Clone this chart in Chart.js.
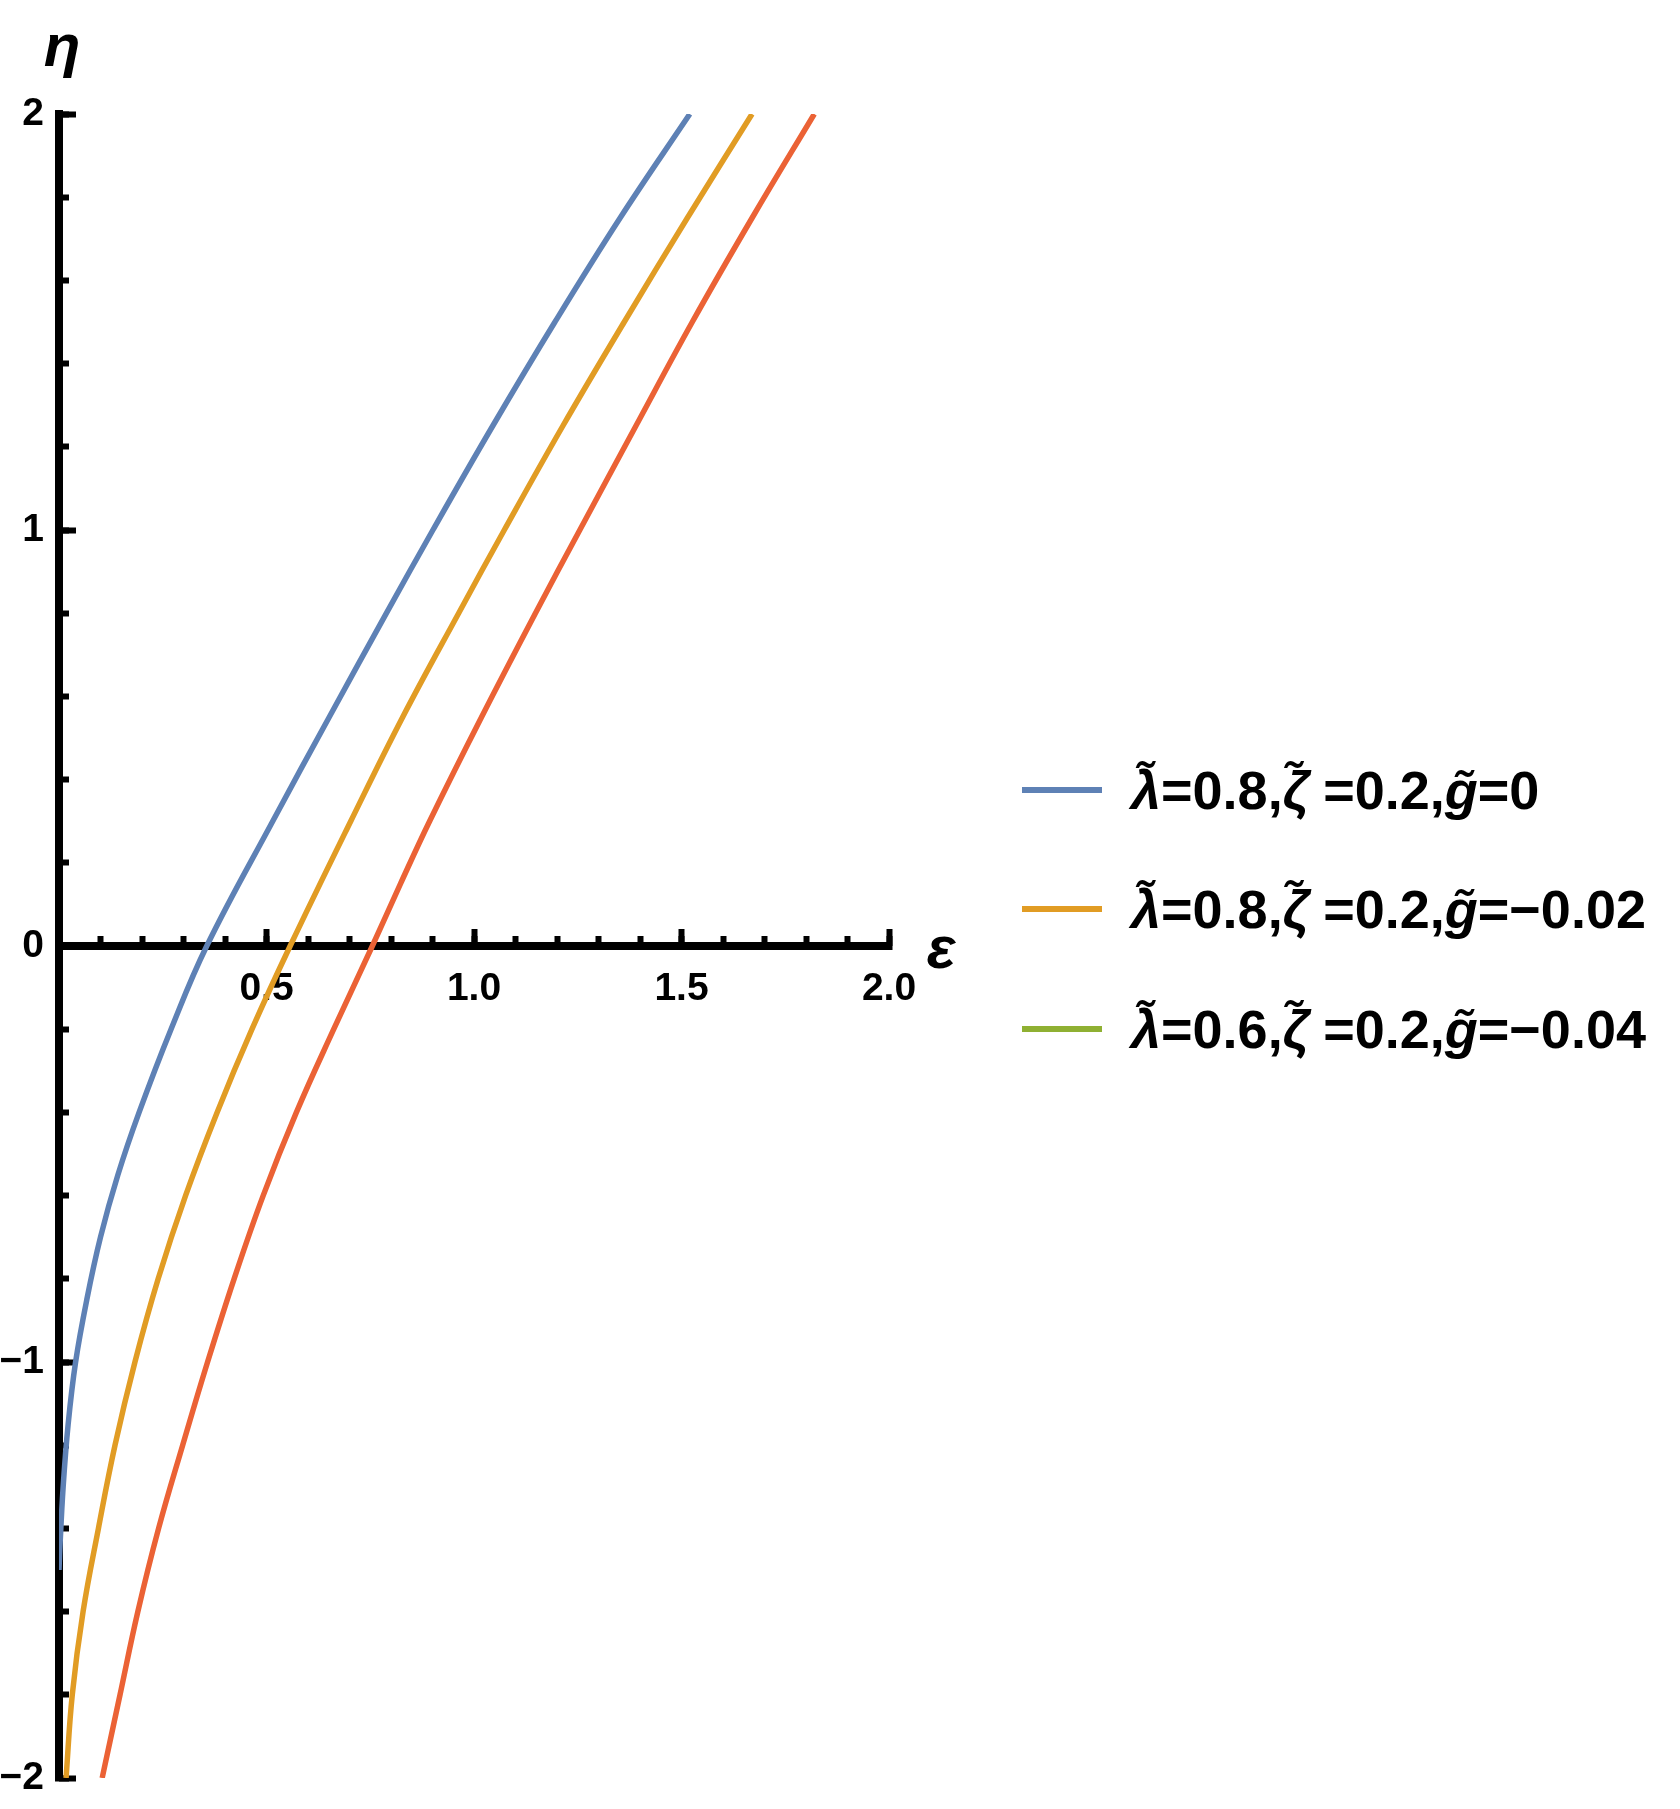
<!DOCTYPE html>
<html>
<head>
<meta charset="utf-8">
<script src="https://cdn.jsdelivr.net/npm/chart.js@4.4.1/dist/chart.umd.min.js"></script>
<style>
  body { margin: 0; background: #fff; }
  #plot { display: block; }
</style>
</head>
<body>
<canvas id="plot" width="1680" height="1809"></canvas>
<script>
// curves: eta on the vertical axis, epsilon on the horizontal one
const etaBlue = [-1.5, -1.45, -1.3, -1.15, -1.0, -0.85, -0.7, -0.55, -0.4, -0.2, 0, 0.3, 0.55, 0.8, 1.0, 1.25, 1.5, 1.75, 2.0];
const epsBlue = [0.0, 0.002, 0.010, 0.022, 0.040, 0.067, 0.100, 0.142, 0.193, 0.270, 0.356, 0.515, 0.651, 0.789, 0.901, 1.045, 1.195, 1.352, 1.52];

const etaOrange = [-2.0, -1.8, -1.6, -1.4, -1.2, -1.0, -0.8, -0.6, -0.4, -0.2, 0, 0.3, 0.55, 0.8, 1.0, 1.25, 1.5, 1.75, 2.0];
const epsOrange = [0.017, 0.032, 0.058, 0.095, 0.135, 0.183, 0.239, 0.305, 0.381, 0.465, 0.557, 0.703, 0.828, 0.963, 1.073, 1.214, 1.362, 1.514, 1.67];

const etaRed = [-2.0, -1.8, -1.6, -1.4, -1.2, -1.0, -0.8, -0.6, -0.4, -0.2, 0, 0.15, 0.3, 0.55, 0.8, 1.0, 1.25, 1.5, 1.75, 2.0];
const epsRed = [0.104, 0.147, 0.19, 0.24, 0.298, 0.358, 0.422, 0.492, 0.572, 0.662, 0.755, 0.823, 0.893, 1.018, 1.148, 1.255, 1.39, 1.526, 1.67, 1.82];

// legend parameters (the 3rd legend swatch is green while its curve is red, as in the figure)
const lambdaVals = ['0.8', '0.8', '0.6'];
const zetaVals = ['0.2', '0.2', '0.2'];
const gVals = ['0', '\u22120.02', '\u22120.04'];
const lineColors = ['#5E81B5', '#E19C24', '#EB6235'];
const swatchColors = ['#5E81B5', '#E19C24', '#8FB032'];

const xTicks = [0.5, 1.0, 1.5, 2.0];
const yTicks = [-2, -1, 0, 1, 2];

const FONT = "'Liberation Sans', Arial, sans-serif";

function pts(xs, ys) {
    return ys.map((y, i) => ({ x: xs[i], y: y }));
}

function fmtMinus(v) {
    return v < 0 ? '\u2212' + Math.abs(v) : String(v);
}

function noPad(s) { // axes sit inside the plot, so they should not push the chart area around
    s.paddingTop = 0; s.paddingBottom = 0; s.paddingLeft = 0; s.paddingRight = 0;
}

const labelPlugin = { // axis letters and the legend, drawn with mixed upright / italic text
    id: 'labels',
    afterDraw(chart) {
        const ctx = chart.ctx;
        ctx.save();
        ctx.fillStyle = '#000';
        ctx.textBaseline = 'alphabetic';

        ctx.font = 'italic bold 60px ' + FONT;
        ctx.textAlign = 'center';
        ctx.fillText('\u03b7', 62, 66);
        ctx.fillText('\u03b5', 941, 968);

        ctx.textAlign = 'left';
        const rows = [790, 909, 1029];
        rows.forEach((ry, i) => {
            ctx.fillStyle = swatchColors[i];
            ctx.fillRect(1022, ry - 3, 80, 6);

            // [text, italic, extra gap after]
            const parts = [
                ['\u03bb\u0303', true, 0], ['=' + lambdaVals[i] + ',', false, 0],
                ['\u03b6\u0303', true, 14], ['=' + zetaVals[i] + ',', false, 0],
                ['g\u0303', true, 0], ['=' + gVals[i], false, 0]
            ];
            let x = 1131;
            ctx.fillStyle = '#000';
            parts.forEach(([txt, it, gap]) => {
                ctx.font = (it ? 'italic ' : '') + 'bold 54px ' + FONT;
                ctx.fillText(txt, x, ry + 19);
                x += ctx.measureText(txt).width + gap;
            });
        });
        ctx.restore();
    }
};

const ctx = document.querySelector('#plot');

new Chart(ctx, {
    type: 'scatter',
    data: {
        datasets: [
            { label: 'blue', data: pts(epsBlue, etaBlue), borderColor: lineColors[0] },
            { label: 'orange', data: pts(epsOrange, etaOrange), borderColor: lineColors[1] },
            { label: 'red', data: pts(epsRed, etaRed), borderColor: lineColors[2] }
        ].map(d => Object.assign(d, {
            showLine: true, pointRadius: 0, borderWidth: 5.5, tension: 0.4,
            borderCapStyle: 'butt', fill: false, xAxisID: 'x', yAxisID: 'y'
        }))
    },
    options: {
        responsive: false,
        animation: false,
        layout: { padding: { left: 0, top: 114, right: 791, bottom: 31 } },
        plugins: { legend: { display: false }, tooltip: { enabled: false } },
        scales: {
            x: {
                type: 'linear', min: 0, max: 2, position: { y: 0 },
                afterFit: s => { s.height = 0; noPad(s); },
                afterBuildTicks: s => { s.ticks = [0].concat(xTicks).map(v => ({ value: v })); },
                ticks: {
                    callback: v => (v === 0 ? '' : v.toFixed(1)),
                    font: { family: FONT, size: 39, weight: 'bold' }, color: '#000',
                    padding: 41, maxRotation: 0, autoSkip: false
                },
                grid: { drawOnChartArea: false, tickLength: -21, tickWidth: 6, tickColor: '#000' },
                border: { display: true, width: 8, color: '#000' }
            },
            x2: {
                type: 'linear', min: 0, max: 2, position: { y: 0 },
                afterFit: s => { s.height = 0; noPad(s); },
                ticks: { stepSize: 0.1, display: false },
                grid: { drawOnChartArea: false, tickLength: -10, tickWidth: 6, tickColor: '#000' },
                border: { display: false }
            },
            y: {
                type: 'linear', min: -2, max: 2, position: 'left', weight: 1, z: 1,
                afterFit: s => { s.width = 59; noPad(s); },
                afterBuildTicks: s => { s.ticks = yTicks.map(v => ({ value: v })); },
                ticks: {
                    callback: v => fmtMinus(v),
                    font: { family: FONT, size: 39, weight: 'bold' }, color: '#000',
                    padding: 32, autoSkip: false
                },
                grid: { drawOnChartArea: false, tickLength: -17, tickWidth: 6, tickColor: '#000' },
                border: { display: true, width: 8, color: '#000' }
            },
            y2: {
                type: 'linear', min: -2, max: 2, position: 'left', weight: 0, z: 1,
                afterFit: s => { s.width = 0; noPad(s); },
                ticks: { stepSize: 0.2, display: false },
                grid: { drawOnChartArea: false, tickLength: -10, tickWidth: 6, tickColor: '#000' },
                border: { display: false }
            }
        }
    },
    plugins: [labelPlugin]
});
</script>
</body>
</html>
